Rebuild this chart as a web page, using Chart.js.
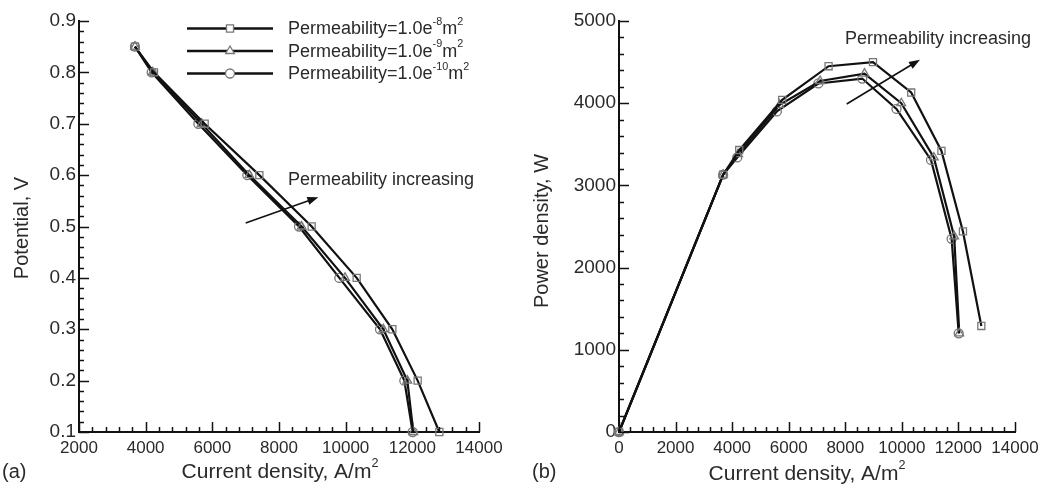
<!DOCTYPE html>
<html>
<head>
<meta charset="utf-8">
<script src="https://cdn.jsdelivr.net/npm/chart.js@4"></script>
<style>
  html, body { margin: 0; padding: 0; background: #fff; }
  #wrap { position: relative; width: 1039px; height: 489px; }
  canvas { position: absolute; top: 0; }
  #chartA { left: 0; }
  #chartB { left: 520px; }
</style>
</head>
<body>
<div id="wrap">
  <canvas id="chartA" width="520" height="489"></canvas>
  <canvas id="chartB" width="519" height="489"></canvas>
</div>
<script>
// potential (V) at each operating point
const potential = [0.85, 0.8, 0.7, 0.6, 0.5, 0.4, 0.3, 0.2, 0.1];
// current density (A/m2) per permeability
const currentK8 = [3680, 4250, 5770, 7410, 8980, 10330, 11400, 12160, 12810];
const currentK9 = [3680, 4210, 5680, 7110, 8680, 9980, 11130, 11850, 12030];
const currentK10 = [3680, 4180, 5580, 7050, 8600, 9810, 11030, 11760, 12010];
// power density (W), panel b, starting at origin
const powerCurrentK8 = [0, 3680, 4250, 5770, 7410, 8980, 10330, 11400, 12160, 12810];
const powerCurrentK9 = [0, 3680, 4210, 5680, 7110, 8680, 9980, 11130, 11850, 12030];
const powerCurrentK10 = [0, 3680, 4180, 5580, 7050, 8600, 9810, 11030, 11760, 12010];
const powerK8 = [0, 3130, 3430, 4040, 4450, 4500, 4130, 3420, 2440, 1290];
const powerK9 = [0, 3130, 3380, 3980, 4270, 4360, 4000, 3340, 2380, 1200];
const powerK10 = [0, 3130, 3340, 3900, 4240, 4300, 3930, 3310, 2350, 1200];

const seriesNames = [
  [["Permeability=1.0e", false], ["-8", true], ["m", false], ["2", true]],
  [["Permeability=1.0e", false], ["-9", true], ["m", false], ["2", true]],
  [["Permeability=1.0e", false], ["-10", true], ["m", false], ["2", true]]
];
const markers = ["rect", "triangle", "circle"];
const markerSize = [5, 5, 4.5];

const FONT = "'Liberation Sans', Arial, Helvetica, sans-serif";
const TEXT = "#2a2a2a";
const LINE = "#111";
const MARK = "#777";

function makeSet(xs, ys, i) {
  return {
    data: xs.map((x, k) => ({ x: x, y: ys[k] })),
    showLine: true,
    borderColor: LINE,
    borderWidth: 2.2,
    pointStyle: markers[i],
    pointRadius: markerSize[i],
    pointBorderColor: MARK,
    pointBackgroundColor: "rgba(255,255,255,0)",
    pointBorderWidth: 1.3,
    clip: false,
    tension: 0
  };
}

// text with superscript parts
function richWidth(ctx, parts, size) {
  let w = 0;
  parts.forEach(p => {
    ctx.font = (p[1] ? size * 0.6 : size) + "px " + FONT;
    w += ctx.measureText(p[0]).width;
  });
  return w;
}
function drawRich(ctx, parts, x, y, size) {
  ctx.textBaseline = "middle";
  ctx.textAlign = "left";
  parts.forEach(p => {
    const s = p[1] ? size * 0.6 : size;
    ctx.font = s + "px " + FONT;
    ctx.fillText(p[0], x, p[1] ? y - size * 0.42 : y);
    x += ctx.measureText(p[0]).width;
  });
}

function drawMarker(ctx, style, x, y, r) {
  ctx.save();
  ctx.strokeStyle = MARK;
  ctx.lineWidth = 1.3;
  ctx.fillStyle = "#fff";
  ctx.beginPath();
  if (style === "rect") {
    const s = r * Math.SQRT1_2;
    ctx.rect(x - s, y - s, 2 * s, 2 * s);
  } else if (style === "triangle") {
    ctx.moveTo(x, y - r);
    ctx.lineTo(x - r * 0.866, y + r * 0.5);
    ctx.lineTo(x + r * 0.866, y + r * 0.5);
    ctx.closePath();
  } else {
    ctx.arc(x, y, r, 0, Math.PI * 2);
  }
  ctx.fill();
  ctx.stroke();
  ctx.restore();
}

function arrow(ctx, x1, y1, x2, y2) {
  const a = Math.atan2(y2 - y1, x2 - x1);
  ctx.save();
  ctx.strokeStyle = LINE;
  ctx.fillStyle = LINE;
  ctx.lineWidth = 1.6;
  ctx.beginPath();
  ctx.moveTo(x1, y1);
  ctx.lineTo(x2 - 6 * Math.cos(a), y2 - 6 * Math.sin(a));
  ctx.stroke();
  ctx.beginPath();
  ctx.moveTo(x2, y2);
  ctx.lineTo(x2 - 11 * Math.cos(a) + 4 * Math.sin(a), y2 - 11 * Math.sin(a) - 4 * Math.cos(a));
  ctx.lineTo(x2 - 11 * Math.cos(a) - 4 * Math.sin(a), y2 - 11 * Math.sin(a) + 4 * Math.cos(a));
  ctx.closePath();
  ctx.fill();
  ctx.restore();
}

// ticks, titles, annotation and legend drawn on top
function decor(cfg) {
  return {
    id: "decor",
    afterDraw(chart) {
      const ctx = chart.ctx;
      const xs = chart.scales.x, ys = chart.scales.y;
      const area = chart.chartArea;
      ctx.save();
      ctx.strokeStyle = LINE;
      ctx.lineWidth = 1.5;
      ctx.beginPath();
      const nx = Math.round((xs.max - xs.min) / cfg.xMinor);
      for (let k = 0; k <= nx; k++) {
        const px = Math.round(xs.getPixelForValue(xs.min + k * cfg.xMinor)) + 0.5;
        ctx.moveTo(px, area.bottom);
        ctx.lineTo(px, area.bottom - (k % cfg.xEvery === 0 ? 10 : 5));
      }
      const ny = Math.round((ys.max - ys.min) / cfg.yMinor);
      for (let k = 0; k <= ny; k++) {
        const py = Math.round(ys.getPixelForValue(ys.min + k * cfg.yMinor)) + 0.5;
        ctx.moveTo(area.left, py);
        ctx.lineTo(area.left + (k % cfg.yEvery === 0 ? 10 : 5), py);
      }
      ctx.stroke();

      ctx.fillStyle = TEXT;
      // x title
      const tw = richWidth(ctx, cfg.xTitle, 21);
      drawRich(ctx, cfg.xTitle, cfg.xTitleX - tw / 2, cfg.xTitleY, 21);
      // y title
      ctx.save();
      ctx.translate(cfg.yTitleX, cfg.yTitleY);
      ctx.rotate(-Math.PI / 2);
      ctx.font = "20px " + FONT;
      ctx.textAlign = "center";
      ctx.textBaseline = "middle";
      ctx.fillText(cfg.yTitle, 0, 0);
      ctx.restore();
      // panel label
      ctx.font = "20px " + FONT;
      ctx.textAlign = "left";
      ctx.textBaseline = "middle";
      ctx.fillText(cfg.panel, cfg.panelX, cfg.panelY);
      // annotation
      ctx.font = "18px " + FONT;
      ctx.fillText("Permeability increasing", cfg.noteX, cfg.noteY);
      const a = cfg.arrow;
      arrow(ctx, xs.getPixelForValue(a[0]), ys.getPixelForValue(a[1]),
        xs.getPixelForValue(a[2]), ys.getPixelForValue(a[3]));
      // legend
      if (cfg.legend) {
        seriesNames.forEach((parts, i) => {
          const y = 28.5 + i * 22.5;
          ctx.strokeStyle = LINE;
          ctx.lineWidth = 2.5;
          ctx.beginPath();
          ctx.moveTo(187, y);
          ctx.lineTo(273, y);
          ctx.stroke();
          drawMarker(ctx, markers[i], 230, y, markerSize[i]);
          ctx.fillStyle = TEXT;
          drawRich(ctx, parts, 288, y + 1, 18);
        });
      }
      ctx.restore();
    }
  };
}

function axis(min, max, step, pad, size, fit, fmt) {
  return {
    type: "linear",
    min: min, max: max,
    ticks: {
      stepSize: step, color: TEXT, padding: pad,
      font: { family: FONT, size: size },
      maxRotation: 0, minRotation: 0, autoSkip: false,
      callback: fmt
    },
    grid: { display: false, drawTicks: false },
    border: { display: true, color: LINE, width: 2 },
    afterFit: fit
  };
}

// fixed box sizes so the plot area lands where the figure has it
function fitX(h) {
  return s => { s.height = h; s.paddingLeft = 0; s.paddingRight = 0; };
}
function fitY(w) {
  return s => { s.width = w; s.paddingTop = 0; s.paddingBottom = 0; };
}

const xTitleParts = [["Current density, A/m", false], ["2", true]];

new Chart(document.getElementById("chartA").getContext("2d"), {
  type: "scatter",
  data: {
    datasets: [
      makeSet(currentK8, potential, 0),
      makeSet(currentK9, potential, 1),
      makeSet(currentK10, potential, 2)
    ]
  },
  options: {
    responsive: false,
    animation: false,
    layout: { padding: { left: 0, right: 41, top: 21, bottom: 0 } },
    plugins: { legend: { display: false }, tooltip: { enabled: false } },
    scales: {
      x: axis(2000, 14000, 2000, 6, 17, fitX(57), v => v),
      y: axis(0.1, 0.9, 0.1, 3, 19, fitY(79), v => v.toFixed(1))
    }
  },
  plugins: [decor({
    xMinor: 400, xEvery: 5, yMinor: 0.02, yEvery: 5,
    xTitle: xTitleParts, xTitleX: 280, xTitleY: 472,
    yTitle: "Potential, V", yTitleX: 22, yTitleY: 228,
    panel: "(a)", panelX: 2, panelY: 472,
    noteX: 288, noteY: 180,
    arrow: [7000, 0.507, 9180, 0.557],
    legend: true
  })]
});

new Chart(document.getElementById("chartB").getContext("2d"), {
  type: "scatter",
  data: {
    datasets: [
      makeSet(powerCurrentK8, powerK8, 0),
      makeSet(powerCurrentK9, powerK9, 1),
      makeSet(powerCurrentK10, powerK10, 2)
    ]
  },
  options: {
    responsive: false,
    animation: false,
    layout: { padding: { left: 0, right: 24, top: 21, bottom: 0 } },
    plugins: { legend: { display: false }, tooltip: { enabled: false } },
    scales: {
      x: axis(0, 14000, 2000, 6, 17, fitX(57), v => v),
      y: axis(0, 5000, 1000, 3, 19, fitY(99), v => v)
    }
  },
  plugins: [decor({
    xMinor: 400, xEvery: 5, yMinor: 200, yEvery: 5,
    xTitle: xTitleParts, xTitleX: 287, xTitleY: 474,
    yTitle: "Power density, W", yTitleX: 22, yTitleY: 231,
    panel: "(b)", panelX: 12, panelY: 472,
    noteX: 325, noteY: 39,
    arrow: [8050, 3990, 10640, 4530],
    legend: false
  })]
});
</script>
</body>
</html>
